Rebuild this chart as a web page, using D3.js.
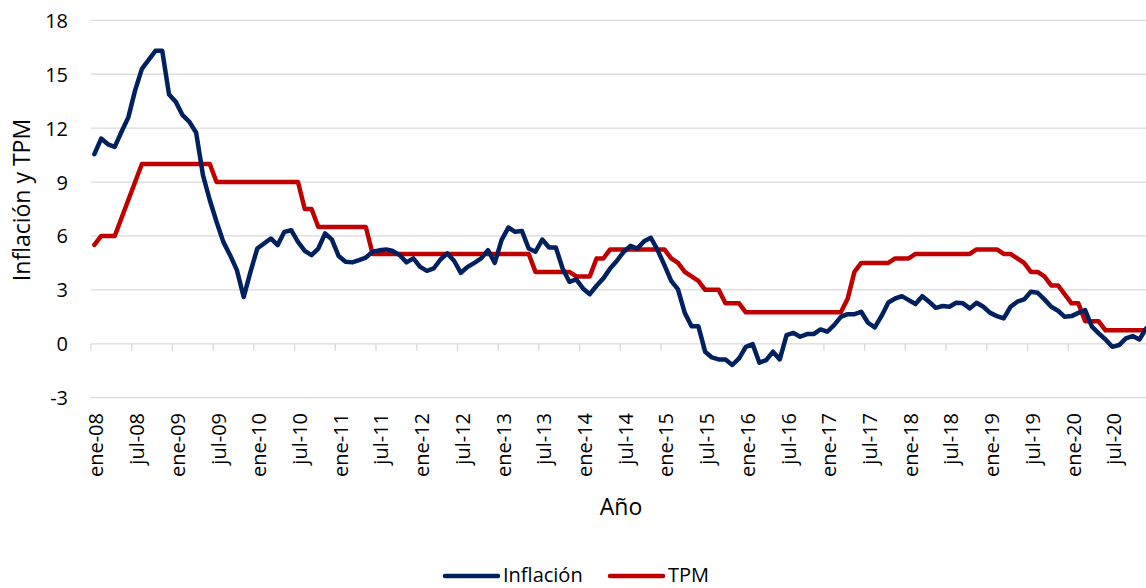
<!DOCTYPE html>
<html>
<head>
<meta charset="utf-8">
<script src="https://cdn.jsdelivr.net/npm/d3@7"></script>
<style>
  html, body { margin: 0; padding: 0; background: #fff; }
  svg { display: block; font-family: "Open Sans", sans-serif; }
</style>
</head>
<body>
<svg id="chart" width="1146" height="588"></svg>
<script>
// Monthly series, ene-08 .. dic-20
const monthNames = ["ene","feb","mar","abr","may","jun","jul","ago","sep","oct","nov","dic"];
const years = ["08","09","10","11","12","13","14","15","16","17","18","19","20"];

const inflacion = [
  10.55, 11.42, 11.1, 10.96, 11.8, 12.6, 14.1, 15.3, 15.8, 16.3, 16.3, 13.87,
  13.46, 12.72, 12.35, 11.74, 9.38, 8.0, 6.79, 5.67, 4.93, 4.1, 2.6, 4.0,
  5.3, 5.58, 5.86, 5.49, 6.23, 6.32, 5.67, 5.17, 4.93, 5.3, 6.14, 5.8,
  4.88, 4.56, 4.53, 4.66, 4.8, 5.12, 5.2, 5.25, 5.16, 4.93, 4.53, 4.75,
  4.28, 4.06, 4.19, 4.69, 5.03, 4.62, 3.95, 4.28, 4.5, 4.75, 5.21, 4.5,
  5.77, 6.47, 6.23, 6.28, 5.3, 5.12, 5.8, 5.36, 5.36, 4.19, 3.45, 3.58,
  3.08, 2.76, 3.23, 3.64, 4.19, 4.62, 5.12, 5.45, 5.3, 5.7, 5.9, 5.21,
  4.38, 3.5, 3.03, 1.72, 0.98, 0.98, -0.44, -0.76, -0.87, -0.87, -1.18, -0.81,
  -0.17, -0.02, -1.05, -0.91, -0.44, -0.87, 0.48, 0.61, 0.39, 0.54, 0.54, 0.8,
  0.67, 1.04, 1.5, 1.65, 1.65, 1.78, 1.17, 0.91, 1.55, 2.3, 2.52, 2.65,
  2.43, 2.21, 2.65, 2.34, 2.0, 2.1, 2.06, 2.28, 2.25, 1.97, 2.28, 2.06,
  1.72, 1.54, 1.41, 2.06, 2.34, 2.47, 2.89, 2.84, 2.47, 2.06, 1.84, 1.5,
  1.54, 1.72, 1.87, 0.95, 0.58, 0.24, -0.17, -0.07, 0.3, 0.43, 0.24, 0.86
];

const tpm = [
  5.5, 6, 6, 6, 7, 8, 9, 10, 10, 10, 10, 10,
  10, 10, 10, 10, 10, 10, 9, 9, 9, 9, 9, 9,
  9, 9, 9, 9, 9, 9, 9, 7.5, 7.5, 6.5, 6.5, 6.5,
  6.5, 6.5, 6.5, 6.5, 6.5, 5, 5, 5, 5, 5, 5, 5,
  5, 5, 5, 5, 5, 5, 5, 5, 5, 5, 5, 5,
  5, 5, 5, 5, 5, 4, 4, 4, 4, 4, 4, 3.75,
  3.75, 3.75, 4.75, 4.75, 5.25, 5.25, 5.25, 5.25, 5.25, 5.25, 5.25, 5.25,
  5.25, 4.75, 4.5, 4, 3.75, 3.5, 3, 3, 3, 2.25, 2.25, 2.25,
  1.75, 1.75, 1.75, 1.75, 1.75, 1.75, 1.75, 1.75, 1.75, 1.75, 1.75, 1.75,
  1.75, 1.75, 1.75, 2.5, 4, 4.5, 4.5, 4.5, 4.5, 4.5, 4.75, 4.75,
  4.75, 5, 5, 5, 5, 5, 5, 5, 5, 5, 5.25, 5.25,
  5.25, 5.25, 5, 5, 4.75, 4.5, 4, 4, 3.75, 3.25, 3.25, 2.75,
  2.25, 2.25, 1.25, 1.25, 1.25, 0.75, 0.75, 0.75, 0.75, 0.75, 0.75, 0.75
];

const yTicks = [-3, 0, 3, 6, 9, 12, 15, 18];

const categories = [];
years.forEach(y => monthNames.forEach(m => categories.push(m + "-" + y)));
// every sixth month gets a label (ene / jul)
const labelEvery = 6;

const svg = d3.select("#chart");

const left = 91, monthW = 6.786;
const x = d3.scaleBand()
  .domain(categories)
  .range([left, left + monthW * categories.length])
  .paddingInner(0).paddingOuter(0);
const y = d3.scaleLinear().domain([-3, 18]).range([397.7, 20.3]);

const cx = d => x(d) + x.bandwidth() / 2;

// horizontal gridlines
svg.append("g")
  .selectAll("line")
  .data(yTicks)
  .join("line")
  .attr("x1", left).attr("x2", 1146)
  .attr("y1", d => y(d)).attr("y2", d => y(d))
  .attr("stroke", "#d9d9d9").attr("stroke-width", 1.3);

// y tick labels
svg.append("g")
  .selectAll("text")
  .data(yTicks)
  .join("text")
  .attr("x", 68).attr("y", d => y(d))
  .attr("text-anchor", "end")
  .attr("dominant-baseline", "central")
  .attr("font-size", 20)
  .attr("fill", "#000")
  .text(d => d);

// category axis on the zero line: tick marks every six months
const tickCats = categories.filter((c, i) => i % labelEvery === 0);
svg.append("g")
  .selectAll("line")
  .data(tickCats)
  .join("line")
  .attr("x1", d => x(d)).attr("x2", d => x(d))
  .attr("y1", y(0)).attr("y2", y(0) + 7)
  .attr("stroke", "#d9d9d9").attr("stroke-width", 1.3);

// rotated month labels, placed below the chart area
svg.append("g")
  .selectAll("text")
  .data(tickCats)
  .join("text")
  .attr("transform", d => `translate(${cx(d) + 9},413) rotate(-90)`)
  .attr("text-anchor", "end")
  .attr("font-size", 20)
  .attr("fill", "#000")
  .text(d => d);

// series lines
const line = d3.line()
  .x((d, i) => cx(categories[i]))
  .y(d => y(d));

svg.append("path")
  .datum(tpm)
  .attr("d", line)
  .attr("fill", "none")
  .attr("stroke", "#c00000")
  .attr("stroke-width", 4.5)
  .attr("stroke-linejoin", "round")
  .attr("stroke-linecap", "round");

svg.append("path")
  .datum(inflacion)
  .attr("d", line)
  .attr("fill", "none")
  .attr("stroke", "#002060")
  .attr("stroke-width", 4.5)
  .attr("stroke-linejoin", "round")
  .attr("stroke-linecap", "round");

// axis titles
svg.append("text")
  .attr("x", 621).attr("y", 515)
  .attr("text-anchor", "middle")
  .attr("font-size", 23)
  .attr("fill", "#000")
  .text("Año");

svg.append("text")
  .attr("transform", "translate(30,200) rotate(-90)")
  .attr("text-anchor", "middle")
  .attr("font-size", 23)
  .attr("fill", "#000")
  .text("Inflación y TPM");

// legend
const legend = [
  { name: "Inflación", color: "#002060", x0: 445 },
  { name: "TPM", color: "#c00000", x0: 610 }
];
const lg = svg.append("g").selectAll("g").data(legend).join("g");
lg.append("line")
  .attr("x1", d => d.x0).attr("x2", d => d.x0 + 53)
  .attr("y1", 576).attr("y2", 576)
  .attr("stroke", d => d.color)
  .attr("stroke-width", 4.5)
  .attr("stroke-linecap", "round");
lg.append("text")
  .attr("x", d => d.x0 + 58).attr("y", 582)
  .attr("font-size", 20)
  .attr("fill", "#000")
  .text(d => d.name);
</script>
</body>
</html>
